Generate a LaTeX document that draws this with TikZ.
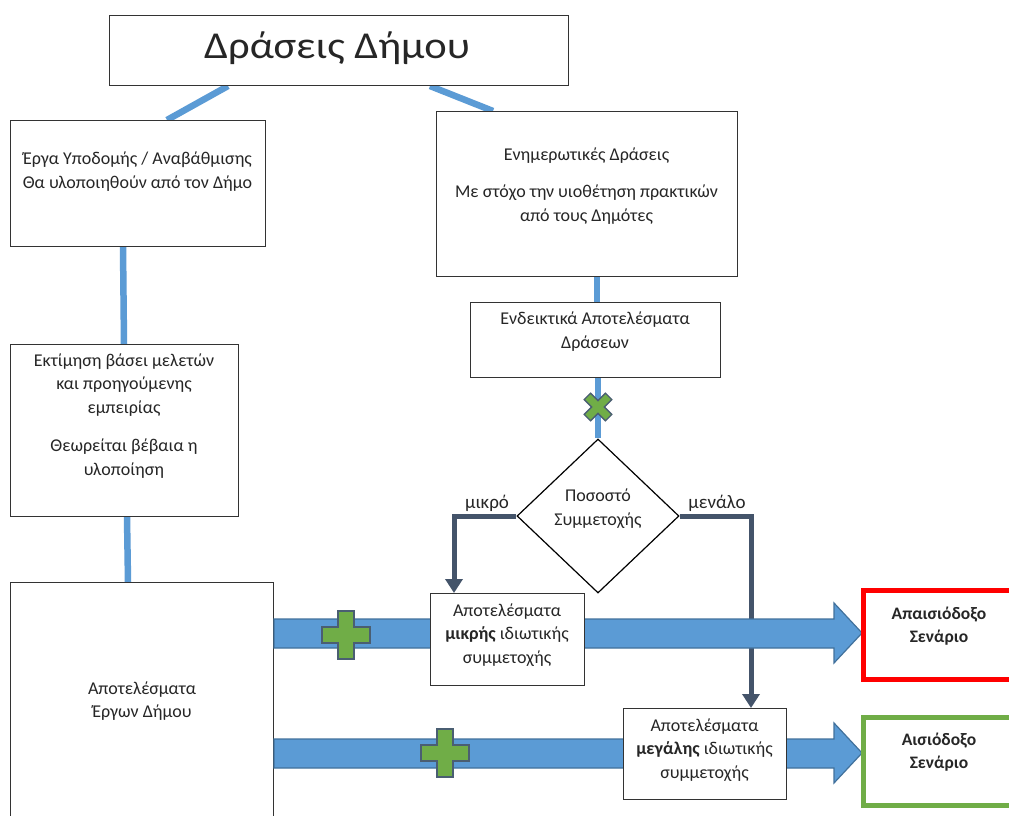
\documentclass[tikz,border=0pt]{standalone}
\usepackage{fontspec}
\setmainfont{Carlito}
\newfontfamily\titlefont[FakeStretch=1.12]{Carlito}
\usetikzlibrary{arrows.meta,shapes.geometric,calc}
\definecolor{bl}{HTML}{5B9BD5}
\definecolor{blo}{HTML}{41719C}
\definecolor{dk}{HTML}{44546A}
\definecolor{gr}{HTML}{70AD47}
\definecolor{gro}{HTML}{4A5E72}
\definecolor{rd}{HTML}{FF0000}
\definecolor{tx}{HTML}{262626}
\begin{document}
\begin{tikzpicture}[x=1pt,y=-1pt,
  box/.style={draw=black!80, line width=1pt, fill=white, inner sep=0pt, anchor=north west},
  txt/.style={align=center, text=tx, inner sep=0pt, font=\fontsize{18}{23.5}\selectfont},
  lbl/.style={text=tx, inner sep=0pt, font=\fontsize{19}{23}\selectfont},
  btxt/.style={align=center, text=tx, inner sep=0pt, font=\fontsize{17.5}{23}\selectfont\bfseries},
  bline/.style={draw=bl, line width=6.5pt},
  dkline/.style={draw=dk, line width=5pt, -{Triangle[width=17pt,length=14pt]}},
  barrow/.style={fill=bl, draw=blo, line width=1.2pt, line join=miter},
  greenplus/.pic={\draw[fill=gr, draw=gro, line width=1.5pt]
    (-24,-8) -- (-8,-8) -- (-8,-24) -- (8,-24) -- (8,-8) -- (24,-8) -- (24,8)
    -- (8,8) -- (8,24) -- (-8,24) -- (-8,8) -- (-24,8) -- cycle;},
  greenx/.pic={\draw[fill=gr, draw=gro, line width=1.3pt, rotate=45]
    (-15,-4.5) -- (-4.5,-4.5) -- (-4.5,-15) -- (4.5,-15) -- (4.5,-4.5) -- (15,-4.5) -- (15,4.5)
    -- (4.5,4.5) -- (4.5,15) -- (-4.5,15) -- (-4.5,4.5) -- (-15,4.5) -- cycle;}
]
\useasboundingbox (0,0) rectangle (1009,816);
\clip (0,0) rectangle (1009,816);
\fill[white] (0,0) rectangle (1009,816);

% boxes (geometry)
\node[box, minimum width=459pt, minimum height=70pt] (title) at (109,15) {};
\node[box, minimum width=255pt, minimum height=126pt] (b1) at (10,120) {};
\node[box, minimum width=301pt, minimum height=165pt] (b2) at (436,111) {};
\node[box, minimum width=250pt, minimum height=75pt] (b3) at (470,302) {};
\node[box, minimum width=228pt, minimum height=172pt] (est) at (10,344) {};
\node[box, minimum width=263pt, minimum height=260pt] (big) at (10,582) {};

% blue connectors
\draw[bline] ($(title.south west)+(119,0)$) -- ($(b1.north west)+(157,0)$);
\draw[bline] ($(title.south west)+(321,0)$) -- ($(b2.north west)+(57,0)$);
\draw[bline] ($(b1.south west)+(113,0)$) -- ($(est.north west)+(114,0)$);
\draw[bline] ($(est.south west)+(117,0)$) -- ($(big.north west)+(118,0)$);
\draw[bline] ($(b2.south west)+(161,0)$) -- ($(b3.north west)+(127,0)$);

% redraw boxes on top of the lines
\node[box, minimum width=459pt, minimum height=70pt] at (109,15) {};
\node[box, minimum width=255pt, minimum height=126pt] at (10,120) {};
\node[box, minimum width=301pt, minimum height=165pt] at (436,111) {};
\node[box, minimum width=250pt, minimum height=75pt] at (470,302) {};
\node[box, minimum width=228pt, minimum height=172pt] at (10,344) {};
\node[box, minimum width=263pt, minimum height=260pt] at (10,582) {};

% decision
\node[diamond, draw=black, line width=1.2pt, fill=white, minimum width=162pt, minimum height=154pt, inner sep=0pt] (dia) at (598,516) {};
\draw[bline] ($(b3.south west)+(128,0)$) -- (dia.north);
\pic at (598,407) {greenx};

% outputs of decision
\node[box, minimum width=154pt, minimum height=92pt] (b4) at (430,593) {};
\node[box, minimum width=163pt, minimum height=91pt] (b5) at (623,708) {};
\draw[dkline] (dia.west) -| ($(b4.north west)+(24,0)$);
\draw[dkline] (dia.east) -| ($(b5.north west)+(128,0)$);

% scenario boxes
\node[draw=rd, line width=5pt, fill=white, anchor=north west, minimum width=200pt, minimum height=89pt, inner sep=0pt] (red) at (861,588) {};
\node[draw=gr, line width=5pt, fill=white, anchor=north west, minimum width=200pt, minimum height=88pt, inner sep=0pt] (green) at (861,715) {};

% big arrows
\draw[barrow] ($(big.north east)+(0,37)$) -- ++(560,0) -- ++(0,-16) -- ++(28,30) -- ++(-28,30) -- ++(0,-15) -- ++(-560,0) -- cycle;
\draw[barrow] ($(big.north east)+(0,157)$) -- ++(560,0) -- ++(0,-16) -- ++(28,30) -- ++(-28,30) -- ++(0,-15) -- ++(-560,0) -- cycle;
\pic at (346,635) {greenplus};
\pic at (445,753) {greenplus};

% boxes above arrows
\node[box, minimum width=154pt, minimum height=92pt] at (430,593) {};
\node[box, minimum width=163pt, minimum height=91pt] at (623,708) {};
\node[draw=rd, line width=5pt, fill=white, anchor=north west, minimum width=200pt, minimum height=89pt, inner sep=0pt] at (861,588) {};
\node[draw=gr, line width=5pt, fill=white, anchor=north west, minimum width=200pt, minimum height=88pt, inner sep=0pt] at (861,715) {};

% texts
\node[txt, font=\titlefont\fontsize{38}{44}\selectfont] (ttitle) at (337,48) {Δράσεις Δήμου};
\node[txt] (tb1) at (137.5,171.5) {Έργα Υποδομής / Αναβάθμισης\\Θα υλοποιηθούν από τον Δήμο};
\node[txt] (tb2) at (586.5,186) {Ενημερωτικές Δράσεις\\[14pt]Με στόχο την υιοθέτηση πρακτικών\\από τους Δημότες};
\node[txt] (tb3) at (595,331.5) {Ενδεικτικά Αποτελέσματα\\Δράσεων};
\node[txt] (test) at (124,416) {Εκτίμηση βάσει μελετών\\και προηγούμενης\\εμπειρίας\\[15pt]Θεωρείται βέβαια η\\υλοποίηση};
\node[txt] (tbig) at (142,701) {Αποτελέσματα\\Έργων Δήμου};
\node[txt] (tdia) at (598,508.5) {Ποσοστό\\Συμμετοχής};
\node[lbl] (lsmall) at (487,503) {μικρό};
\node[lbl] (lbig) at (717,503) {μενάλο};
\node[txt] (tb4) at (507,635) {Αποτελέσματα\\\textbf{μικρής} ιδιωτικής\\συμμετοχής};
\node[txt] (tb5) at (704.5,750) {Αποτελέσματα\\\textbf{μεγάλης} ιδιωτικής\\συμμετοχής};
\node[btxt] (tred) at (939,626.5) {Απαισιόδοξο\\Σενάριο};
\node[btxt] (tgreen) at (939,752.5) {Αισιόδοξο\\Σενάριο};
\end{tikzpicture}
\end{document}
